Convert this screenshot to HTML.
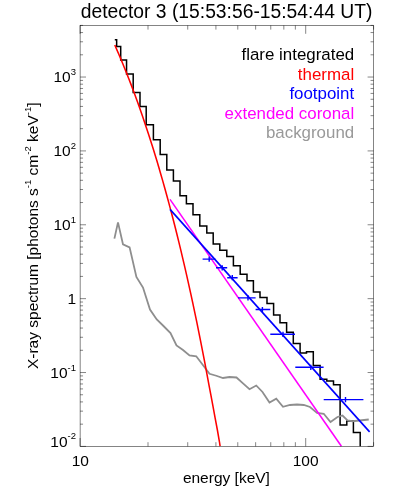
<!DOCTYPE html>
<html><head><meta charset="utf-8"><style>
html,body{margin:0;padding:0;background:#fff}
svg{display:block;will-change:transform}
text{font-family:"Liberation Sans",sans-serif;fill:#000}
</style></head><body>
<svg width="399" height="498" viewBox="0 0 399 498">
<rect width="399" height="498" fill="#fff"/>
<text x="226.6" y="17.6" text-anchor="middle" font-size="19.3">detector 3 (15:53:56-15:54:44 UT)</text>
<g fill="none" stroke-linejoin="miter">
<path d="M114.8,39.699999999999996H116.65V46.60H120.7V60.10H126.55V73.90H133.2V92.50H140.0V106.50H146.2V124.70H153.4V139.70H160.2V154.50H166.8V169.90H173.4V180.90H180.0V195.70H186.4V203.80H193.0V214.70H199.8V225.90H206.8V232.90H213.2V243.90H219.8V250.30H226.8V256.50H233.4V265.70H240.2V274.30H247.0V280.70H253.4V291.90H260.0V297.50H267.0V303.50H273.6V315.10H280.0V322.70H286.6V332.30H293.3V343.60H300.1V353.00H306.5V351.80H313.3V365.40H320.1V379.20H326.8V381.00H333.5V384.70H340.1V425.10H346.8V420.90H353.4V432.50H360.2V446.25" stroke="#000" stroke-width="1.5"/>
<path d="M114.4,238.6L118,222.4L123,244.4L129.6,247.4L136.4,277L143,287.6L150,309.5L156.75,319.5L163.25,325.75L170.5,333L176.5,345.5L183,350L189.5,355.5L196.25,356.25L202.5,364.5L209.5,373.75L216.25,375.75L223,378L229.5,377L236.5,377.5L243,383.4L249.5,389.25L256.25,385.5L262.5,392L269.5,402.5L276.25,398.75L283,406.75L290,405L297,404.5L303.75,405L310,407L317,413L323.75,413.75L330.5,422L337.5,417L342.5,415.5L347.5,420.5L352.5,421.25L368.75,419.5" stroke="#8e8e8e" stroke-width="1.8"/>
<path d="M114.8,45.0L116.8,49.6L118.8,54.2L120.8,58.9L122.8,63.8L124.8,68.7L126.8,73.6L128.8,78.7L130.8,83.9L132.8,89.2L134.8,94.5L136.8,100.0L138.8,105.6L140.8,111.2L142.8,117.0L144.8,122.9L146.8,128.9L148.8,135.0L150.8,141.2L152.8,147.6L154.8,154.1L156.8,160.6L158.8,167.3L160.8,174.2L162.8,181.1L164.8,188.2L166.8,195.5L168.8,202.9L170.8,210.4L172.8,218.0L174.8,225.8L176.8,233.8L178.8,241.9L180.8,250.1L182.8,258.6L184.8,267.1L186.8,275.9L188.8,284.8L190.8,293.9L192.8,303.2L194.8,312.6L196.8,322.2L198.8,332.1L200.8,342.1L202.8,352.3L204.8,362.7L206.8,373.3L208.8,384.1L210.9,395.1L213.0,406.4L215.1,417.8L217.3,429.5L219.4,441.5L220.1,446.2" stroke="#ff0000" stroke-width="1.55"/>
<path d="M170,199.4L341.4,446.25" stroke="#ff00ff" stroke-width="1.55"/>
<path d="M170,209.4L369.6,431.9" stroke="#0000ff" stroke-width="1.6"/>
<path d="M202.6,259.1H215.4M209.2,256.5V261.7M216,267.8H227.2M222.2,265.2V270.4M227.2,277.7H237.6M232.3,275.1V280.3M238,297.9H255.6M248,295.3V300.5M255.6,309.5H270.3M262.4,306.9V312.1M270.3,334.3H295.0M283,331.7V336.9M295.3,367.3H323.6M310.8,364.7V369.9M323.7,399.6H363.4M345.5,397.0V402.2" stroke="#0000ff" stroke-width="1.4"/>
<rect x="80.1" y="25.4" width="293.4" height="421.0" stroke="#000" stroke-width="0.48"/>
<path d="M80.1,446.40h5.9M373.5,446.40h-5.9M80.1,424.16h2.95M373.5,424.16h-2.95M80.1,411.15h2.95M373.5,411.15h-2.95M80.1,401.92h2.95M373.5,401.92h-2.95M80.1,394.76h2.95M373.5,394.76h-2.95M80.1,388.92h2.95M373.5,388.92h-2.95M80.1,383.97h2.95M373.5,383.97h-2.95M80.1,379.69h2.95M373.5,379.69h-2.95M80.1,375.91h2.95M373.5,375.91h-2.95M80.1,372.53h5.9M373.5,372.53h-5.9M80.1,350.29h2.95M373.5,350.29h-2.95M80.1,337.28h2.95M373.5,337.28h-2.95M80.1,328.05h2.95M373.5,328.05h-2.95M80.1,320.89h2.95M373.5,320.89h-2.95M80.1,315.04h2.95M373.5,315.04h-2.95M80.1,310.10h2.95M373.5,310.10h-2.95M80.1,305.81h2.95M373.5,305.81h-2.95M80.1,302.03h2.95M373.5,302.03h-2.95M80.1,298.65h5.9M373.5,298.65h-5.9M80.1,276.42h2.95M373.5,276.42h-2.95M80.1,263.41h2.95M373.5,263.41h-2.95M80.1,254.18h2.95M373.5,254.18h-2.95M80.1,247.02h2.95M373.5,247.02h-2.95M80.1,241.17h2.95M373.5,241.17h-2.95M80.1,236.22h2.95M373.5,236.22h-2.95M80.1,231.94h2.95M373.5,231.94h-2.95M80.1,228.16h2.95M373.5,228.16h-2.95M80.1,224.78h5.9M373.5,224.78h-5.9M80.1,202.54h2.95M373.5,202.54h-2.95M80.1,189.53h2.95M373.5,189.53h-2.95M80.1,180.31h2.95M373.5,180.31h-2.95M80.1,173.15h2.95M373.5,173.15h-2.95M80.1,167.30h2.95M373.5,167.30h-2.95M80.1,162.35h2.95M373.5,162.35h-2.95M80.1,158.07h2.95M373.5,158.07h-2.95M80.1,154.29h2.95M373.5,154.29h-2.95M80.1,150.91h5.9M373.5,150.91h-5.9M80.1,128.67h2.95M373.5,128.67h-2.95M80.1,115.66h2.95M373.5,115.66h-2.95M80.1,106.43h2.95M373.5,106.43h-2.95M80.1,99.27h2.95M373.5,99.27h-2.95M80.1,93.42h2.95M373.5,93.42h-2.95M80.1,88.48h2.95M373.5,88.48h-2.95M80.1,84.19h2.95M373.5,84.19h-2.95M80.1,80.42h2.95M373.5,80.42h-2.95M80.1,77.04h5.9M373.5,77.04h-5.9M80.1,54.80h2.95M373.5,54.80h-2.95M80.1,41.79h2.95M373.5,41.79h-2.95M80.1,32.56h2.95M373.5,32.56h-2.95M80.1,25.40h2.95M373.5,25.40h-2.95M80.10,446.4v-8.4M80.10,25.4v8.4M148.01,446.4v-4.2M148.01,25.4v4.2M187.73,446.4v-4.2M187.73,25.4v4.2M215.92,446.4v-4.2M215.92,25.4v4.2M237.78,446.4v-4.2M237.78,25.4v4.2M255.64,446.4v-4.2M255.64,25.4v4.2M270.75,446.4v-4.2M270.75,25.4v4.2M283.83,446.4v-4.2M283.83,25.4v4.2M295.37,446.4v-4.2M295.37,25.4v4.2M305.69,446.4v-8.4M305.69,25.4v8.4M373.60,446.4v-4.2M373.60,25.4v4.2" stroke="#000" stroke-width="0.48"/>
</g>
<text x="76" y="446.5" text-anchor="end" font-size="15.5">10<tspan font-size="9.5" dy="-7.1">-2</tspan></text><text x="76" y="377.8" text-anchor="end" font-size="15.5">10<tspan font-size="9.5" dy="-7.1">-1</tspan></text><text x="76" y="303.9" text-anchor="end" font-size="15.5">1</text><text x="76" y="230.0" text-anchor="end" font-size="15.5">10<tspan font-size="9.5" dy="-7.1">1</tspan></text><text x="76" y="156.2" text-anchor="end" font-size="15.5">10<tspan font-size="9.5" dy="-7.1">2</tspan></text><text x="76" y="82.3" text-anchor="end" font-size="15.5">10<tspan font-size="9.5" dy="-7.1">3</tspan></text>
<text x="80.3" y="465.9" text-anchor="middle" font-size="15.5">10</text>
<text x="305.6" y="465.9" text-anchor="middle" font-size="15.5">100</text>
<text x="226.4" y="482.8" text-anchor="middle" font-size="15.5">energy [keV]</text>
<text transform="translate(37.9,235.8) rotate(-90)" text-anchor="middle" font-size="15.5">X-ray spectrum [photons s<tspan font-size="9.5" dy="-7.1">-1</tspan><tspan dy="7.1"> cm</tspan><tspan font-size="9.5" dy="-7.1">-2</tspan><tspan dy="7.1"> keV</tspan><tspan font-size="9.5" dy="-7.1">-1</tspan><tspan dy="7.1">]</tspan></text>
<g font-size="16.9" text-anchor="end">
<text x="354.2" y="59.8">flare integrated</text>
<text x="354.2" y="79.5" style="fill:#ff0000">thermal</text>
<text x="354.2" y="99.0" style="fill:#0000ff">footpoint</text>
<text x="354.2" y="118.5" style="fill:#ff00ff">extended coronal</text>
<text x="354.2" y="137.8" style="fill:#999999">background</text>
</g>
</svg>
</body></html>
